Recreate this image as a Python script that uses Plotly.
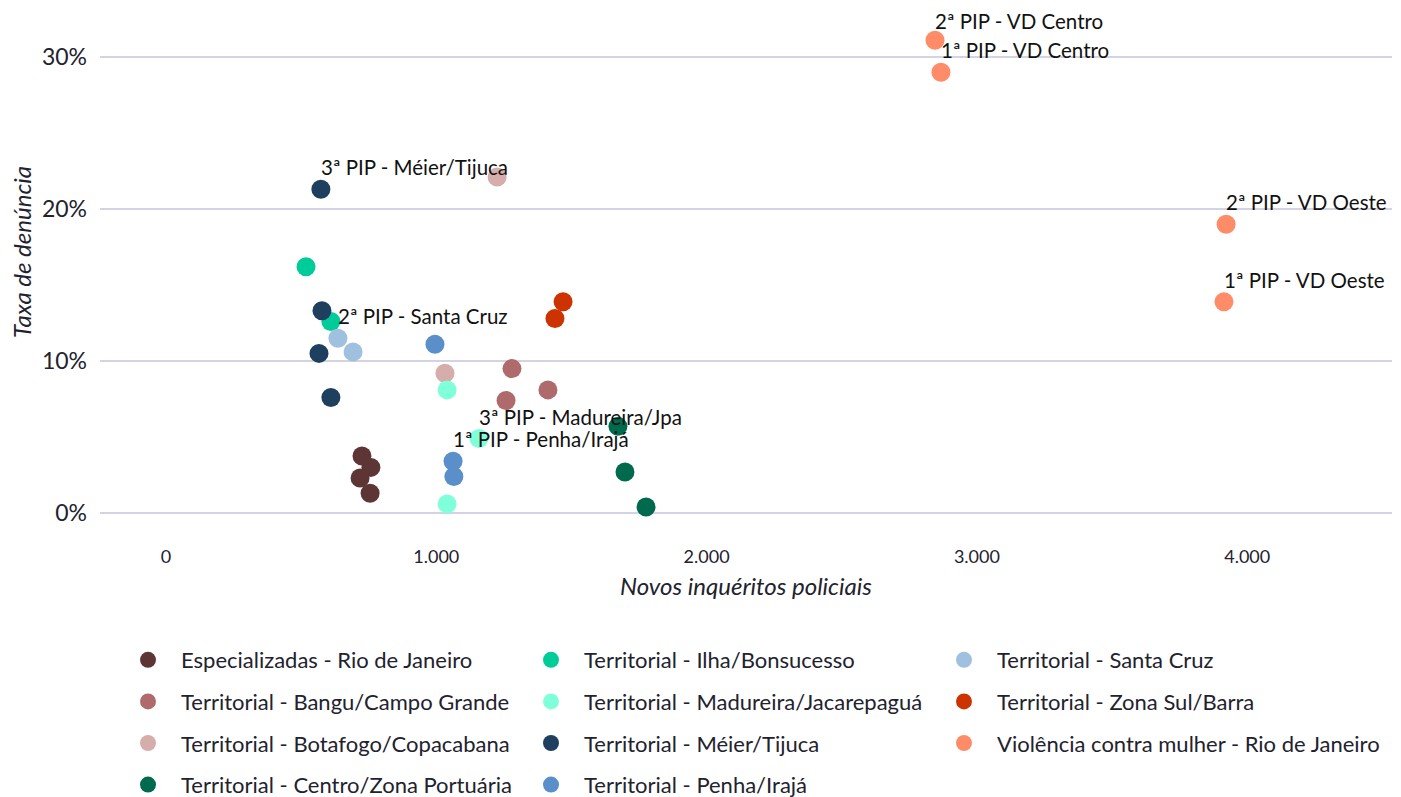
import plotly.graph_objects as go

# ---------------- data ----------------
categories = [
    "Especializadas - Rio de Janeiro",
    "Territorial - Bangu/Campo Grande",
    "Territorial - Botafogo/Copacabana",
    "Territorial - Centro/Zona Portuária",
    "Territorial - Ilha/Bonsucesso",
    "Territorial - Madureira/Jacarepaguá",
    "Territorial - Méier/Tijuca",
    "Territorial - Penha/Irajá",
    "Territorial - Santa Cruz",
    "Territorial - Zona Sul/Barra",
    "Violência contra mulher - Rio de Janeiro",
]

colors = [
    "#5E3535", "#AF6B6B", "#D5ADAA", "#006A4E", "#00CC99", "#80FFDB",
    "#1F3F5F", "#5A8FCA", "#A0C0DF", "#CC3300", "#FF8C69",
]

# novos inquéritos policiais (x) and taxa de denúncia (y, fraction)
x_esp = [725, 758, 718, 755]
y_esp = [0.0375, 0.030, 0.023, 0.013]
l_esp = ["", "", "", ""]

x_bangu = [1280, 1413, 1258]
y_bangu = [0.095, 0.081, 0.074]
l_bangu = ["", "", ""]

x_bota = [1225, 1032]
y_bota = [0.221, 0.092]
l_bota = ["", ""]

x_centro = [1672, 1698, 1776]
y_centro = [0.057, 0.027, 0.004]
l_centro = ["", "", ""]

x_ilha = [518, 610]
y_ilha = [0.162, 0.126]
l_ilha = ["", ""]

x_madu = [1040, 1158, 1040]
y_madu = [0.081, 0.049, 0.006]
l_madu = ["", "3ª PIP - Madureira/Jpa", ""]

x_meier = [573, 577, 566, 610]
y_meier = [0.213, 0.133, 0.105, 0.076]
l_meier = ["3ª PIP - Méier/Tijuca", "", "", ""]

x_penha = [995, 1062, 1065]
y_penha = [0.111, 0.034, 0.024]
l_penha = ["", "1ª PIP - Penha/Irajá", ""]

x_scruz = [636, 692]
y_scruz = [0.115, 0.106]
l_scruz = ["2ª PIP - Santa Cruz", ""]

x_zsul = [1469, 1439]
y_zsul = [0.139, 0.128]
l_zsul = ["", ""]

x_vd = [2845, 2867, 3922, 3914]
y_vd = [0.311, 0.290, 0.190, 0.139]
l_vd = ["2ª PIP - VD Centro", "1ª PIP - VD Centro", "2ª PIP - VD Oeste", "1ª PIP - VD Oeste"]

series_x = [x_esp, x_bangu, x_bota, x_centro, x_ilha, x_madu, x_meier, x_penha, x_scruz, x_zsul, x_vd]
series_y = [y_esp, y_bangu, y_bota, y_centro, y_ilha, y_madu, y_meier, y_penha, y_scruz, y_zsul, y_vd]
series_l = [l_esp, l_bangu, l_bota, l_centro, l_ilha, l_madu, l_meier, l_penha, l_scruz, l_zsul, l_vd]

x_ticks = [0, 1000, 2000, 3000, 4000]
x_ticklabels = ["0", "1.000", "2.000", "3.000", "4.000"]
y_ticks = [0, 0.1, 0.2, 0.3]
y_ticklabels = ["0%", "10%", "20%", "30%"]

# ---------------- figure ----------------
FONT = "Lato"
TXT = "#22222e"

OFF = 8  # page body margin
W, H = 1401 - OFF, 797 - OFF
# target (screen) pixel positions of the plot area
P_LEFT, P_RIGHT, P_TOP, P_BOTTOM = 100, 1392, 10, 540
ML = P_LEFT - OFF
MR = W - (P_RIGHT - OFF)
MT = P_TOP - OFF
MB = H - (P_BOTTOM - OFF)
plot_h = P_BOTTOM - P_TOP
plot_w = P_RIGHT - P_LEFT


def px_to_paper_x(px):
    return (px - P_LEFT) / plot_w


def px_to_paper_y(py):
    return (P_BOTTOM - py) / plot_h


fig = go.Figure()
legend_ids = ["legend", "legend2", "legend3"]
for i, cat in enumerate(categories):
    col = i // 4
    fig.add_trace(go.Scatter(
        x=series_x[i], y=series_y[i], mode="markers", name=cat,
        marker=dict(color=colors[i], size=19, line=dict(width=0)),
        legend=legend_ids[col], legendgroup=cat,
        hovertemplate="%{x}<br>%{y:.1%}<extra>" + cat + "</extra>",
    ))
    for xv, yv, lab in zip(series_x[i], series_y[i], series_l[i]):
        if lab:
            # keep the top-most label fully inside the figure
            ys = 19 if yv > 0.305 else 22
            fig.add_annotation(
                x=xv, y=yv, text=lab, showarrow=False, xanchor="left",
                yanchor="middle", yshift=ys, xshift=-2,
                font=dict(family=FONT, size=20.5, color="#111111"),
            )

leg_common = dict(
    orientation="v", font=dict(family=FONT, size=22, color=TXT),
    bgcolor="rgba(0,0,0,0)", tracegroupgap=10, itemsizing="trace",
    itemwidth=56, xanchor="left", yanchor="top", traceorder="grouped",
)
leg_marker_x = [148, 551, 964]
leg_top = 639
fig.update_layout(
    legend=dict(x=px_to_paper_x(leg_marker_x[0] - 33), y=px_to_paper_y(leg_top), **leg_common),
    legend2=dict(x=px_to_paper_x(leg_marker_x[1] - 33), y=px_to_paper_y(leg_top), **leg_common),
    legend3=dict(x=px_to_paper_x(leg_marker_x[2] - 33), y=px_to_paper_y(leg_top), **leg_common),
)

# axis titles
fig.add_annotation(
    xref="paper", yref="paper", x=px_to_paper_x(21), y=px_to_paper_y(252),
    text="<i>Taxa de denúncia</i>", textangle=-90, showarrow=False,
    xanchor="center", yanchor="middle",
    font=dict(family=FONT, size=24, color=TXT),
)
fig.add_annotation(
    xref="paper", yref="paper", x=px_to_paper_x(746), y=px_to_paper_y(585),
    text="<i>Novos inquéritos policiais</i>", showarrow=False,
    xanchor="center", yanchor="middle",
    font=dict(family=FONT, size=24, color=TXT),
)

# axis ranges from pixel calibration (0 at x=166, 270.3 px per 1000; 0% at y=513, 15.2 px per 1%)
x_range = [(P_LEFT - 166) / 0.2703, (P_RIGHT - 166) / 0.2703]
y_range = [-(P_BOTTOM - 513) / 15.2 / 100, 0.30 + (57 - P_TOP) / 15.2 / 100]

fig.update_xaxes(
    range=x_range, tickvals=x_ticks, ticktext=x_ticklabels,
    showgrid=False, zeroline=False, showline=False, ticks="",
    tickfont=dict(family=FONT, size=18, color=TXT), ticklabelstandoff=4,
)
fig.update_yaxes(
    range=y_range, tickvals=y_ticks, ticktext=y_ticklabels,
    showgrid=True, gridcolor="#D3D3E3", gridwidth=2, zeroline=False,
    showline=False, ticks="", ticklabelstandoff=12,
    tickfont=dict(family=FONT, size=23, color=TXT),
)

fig.update_layout(
    width=W, height=H,
    margin=dict(l=ML, r=MR, t=MT, b=MB, autoexpand=False),
    plot_bgcolor="white", paper_bgcolor="white",
    font=dict(family=FONT, color=TXT),
    showlegend=True,
)

fig.write_html("out.html")
